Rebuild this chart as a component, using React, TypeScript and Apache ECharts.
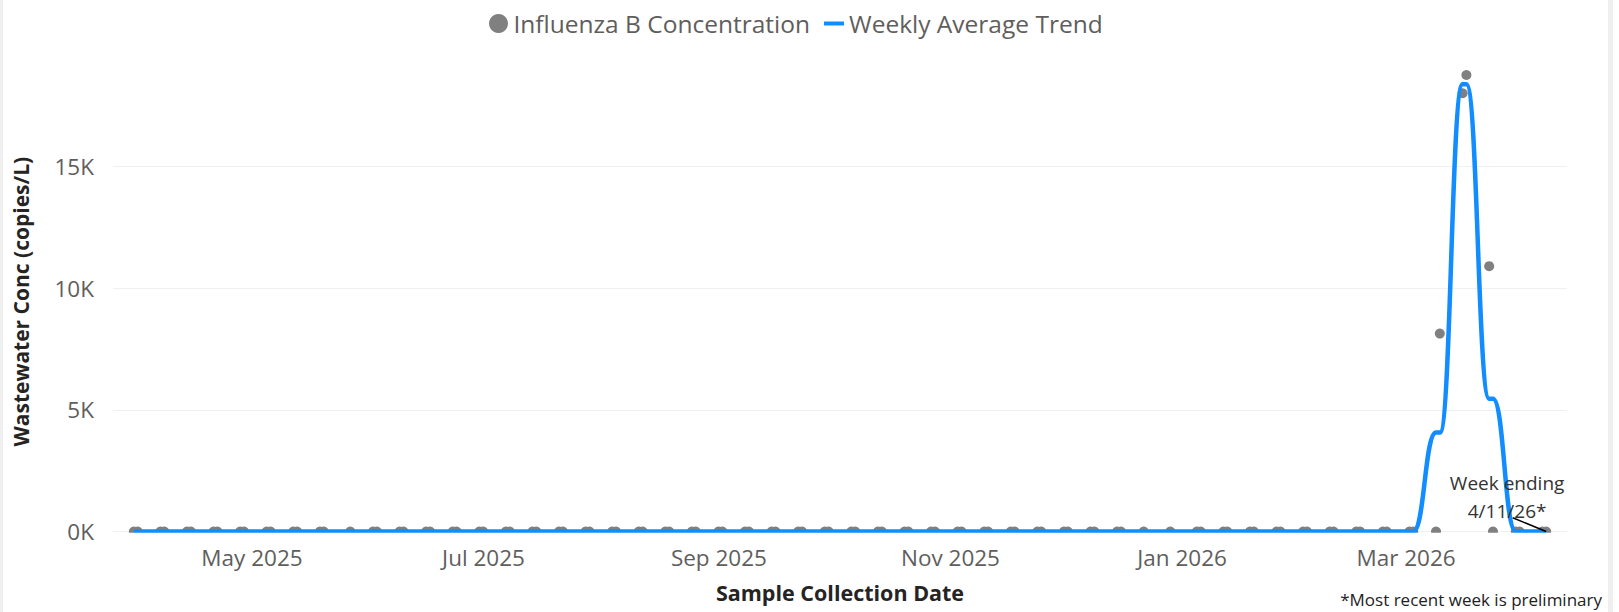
import React, { useEffect, useRef } from 'react';
import * as echarts from 'echarts';

// Sample collection dates (Sunday/Monday sampling) and measured concentrations (copies/L)
const sampleDates = [
  '2025-03-30', '2025-03-31', '2025-04-06', '2025-04-07', '2025-04-13', '2025-04-14', '2025-04-20', '2025-04-21',
  '2025-04-27', '2025-04-28', '2025-05-04', '2025-05-05', '2025-05-11', '2025-05-12', '2025-05-18', '2025-05-19',
  '2025-05-26', '2025-06-01', '2025-06-02', '2025-06-08', '2025-06-09', '2025-06-15', '2025-06-16', '2025-06-22',
  '2025-06-23', '2025-06-29', '2025-06-30', '2025-07-06', '2025-07-07', '2025-07-13', '2025-07-14', '2025-07-20',
  '2025-07-21', '2025-07-27', '2025-07-28', '2025-08-03', '2025-08-04', '2025-08-10', '2025-08-11', '2025-08-17',
  '2025-08-18', '2025-08-24', '2025-08-25', '2025-08-31', '2025-09-01', '2025-09-07', '2025-09-08', '2025-09-14',
  '2025-09-15', '2025-09-21', '2025-09-22', '2025-09-28', '2025-09-29', '2025-10-05', '2025-10-06', '2025-10-12',
  '2025-10-13', '2025-10-19', '2025-10-20', '2025-10-26', '2025-10-27', '2025-11-02', '2025-11-03', '2025-11-09',
  '2025-11-10', '2025-11-16', '2025-11-17', '2025-11-23', '2025-11-24', '2025-11-30', '2025-12-01', '2025-12-07',
  '2025-12-08', '2025-12-14', '2025-12-15', '2025-12-21', '2025-12-28', '2026-01-04', '2026-01-05', '2026-01-11',
  '2026-01-12', '2026-01-18', '2026-01-19', '2026-01-25', '2026-01-26', '2026-02-01', '2026-02-02', '2026-02-08',
  '2026-02-09', '2026-02-15', '2026-02-16', '2026-02-22', '2026-02-23', '2026-03-01', '2026-03-02', '2026-03-08',
  '2026-03-09', '2026-03-15', '2026-03-16', '2026-03-22', '2026-03-23', '2026-03-29', '2026-03-30', '2026-04-05',
  '2026-04-06',
];
const sampleValues = [
  0, 0, 0, 0, 0, 0, 0, 0,
  0, 0, 0, 0, 0, 0, 0, 0,
  0, 0, 0, 0, 0, 0, 0, 0,
  0, 0, 0, 0, 0, 0, 0, 0,
  0, 0, 0, 0, 0, 0, 0, 0,
  0, 0, 0, 0, 0, 0, 0, 0,
  0, 0, 0, 0, 0, 0, 0, 0,
  0, 0, 0, 0, 0, 0, 0, 0,
  0, 0, 0, 0, 0, 0, 0, 0,
  0, 0, 0, 0, 0, 0, 0, 0,
  0, 0, 0, 0, 0, 0, 0, 0,
  0, 0, 0, 0, 0, 0, 0, 0,
  8130, 18000, 18750, 10900, 0, 0, 0, 0,
  0,
];

// Weeks (Sunday start) and weekly average concentration
const weekStarts = [
  '2025-03-30', '2025-04-06', '2025-04-13', '2025-04-20', '2025-04-27', '2025-05-04', '2025-05-11', '2025-05-18',
  '2025-05-25', '2025-06-01', '2025-06-08', '2025-06-15', '2025-06-22', '2025-06-29', '2025-07-06', '2025-07-13',
  '2025-07-20', '2025-07-27', '2025-08-03', '2025-08-10', '2025-08-17', '2025-08-24', '2025-08-31', '2025-09-07',
  '2025-09-14', '2025-09-21', '2025-09-28', '2025-10-05', '2025-10-12', '2025-10-19', '2025-10-26', '2025-11-02',
  '2025-11-09', '2025-11-16', '2025-11-23', '2025-11-30', '2025-12-07', '2025-12-14', '2025-12-21', '2025-12-28',
  '2026-01-04', '2026-01-11', '2026-01-18', '2026-01-25', '2026-02-01', '2026-02-08', '2026-02-15', '2026-02-22',
  '2026-03-01', '2026-03-08', '2026-03-15', '2026-03-22', '2026-03-29', '2026-04-05',
];
const weeklyAverage = [
  0, 0, 0, 0, 0, 0, 0, 0,
  0, 0, 0, 0, 0, 0, 0, 0,
  0, 0, 0, 0, 0, 0, 0, 0,
  0, 0, 0, 0, 0, 0, 0, 0,
  0, 0, 0, 0, 0, 0, 0, 0,
  0, 0, 0, 0, 0, 0, 0, 0,
  0, 4065, 18375, 5450, 0, 0,
];

const monthTicks = ['2025-05-01', '2025-07-01', '2025-09-01', '2025-11-01', '2026-01-01', '2026-03-01'];
const monthLabels = ['May 2025', 'Jul 2025', 'Sep 2025', 'Nov 2025', 'Jan 2026', 'Mar 2026'];
const yTickValues = [0, 5000, 10000, 15000];
const yTickLabels = ['0K', '5K', '10K', '15K'];

const seriesNames = ['Influenza B Concentration', 'Weekly Average Trend'];
const axisRange = ['2025-03-24T12:00:00Z', '2026-04-11T12:00:00Z'];
const annotationText = 'Week ending\n4/11/26*';
const footnoteText = '*Most recent week is preliminary';

const ts = (d: string) => Date.parse(d.length === 10 ? d + 'T00:00:00Z' : d);
const DAY = 86400000;

export default function App() {
  const ref = useRef<HTMLDivElement>(null);

  useEffect(() => {
    const el = ref.current;
    if (!el) return;
    const chart = echarts.init(el, null, { renderer: 'svg' });
    const font = 'Open Sans';

    const scatterData = sampleDates.map((d, i) => [ts(d), sampleValues[i]]);
    const weekIndexOf = (d: string) => {
      let idx = 0;
      for (let i = 0; i < weekStarts.length; i++) if (ts(weekStarts[i]) <= ts(d)) idx = i;
      return idx;
    };
    const trendData = sampleDates.map((d) => [ts(d), weeklyAverage[weekIndexOf(d)]]);
    const labelValues = monthTicks.map((d) => ts(d) - 0.9 * DAY);

    chart.setOption({
      animation: false,
      backgroundColor: '#ffffff',
      textStyle: { fontFamily: font },
      legend: {
        left: 484,
        top: 6,
        itemWidth: 20,
        itemHeight: 19,
        itemGap: 14,
        selectedMode: false,
        textStyle: { fontSize: 24.5, color: '#605E5C', fontFamily: font },
        data: [
          { name: seriesNames[0], icon: 'circle', itemStyle: { color: '#808080', opacity: 1 } },
          { name: seriesNames[1], icon: 'path://M0 0H20V4H0Z', itemStyle: { color: '#118DFF', opacity: 1 } },
        ],
      },
      grid: { left: 113, right: 52, top: 44.6, bottom: 80.5, containLabel: false, outerBoundsMode: 'none' },
      xAxis: {
        type: 'value',
        min: ts(axisRange[0]),
        max: ts(axisRange[1]),
        name: 'Sample Collection Date',
        nameLocation: 'middle',
        nameGap: 50,
        nameTextStyle: { fontSize: 21.5, fontWeight: 'bold', color: '#252423', fontFamily: font },
        axisLine: { show: false },
        axisTick: { show: false },
        splitLine: { show: false },
        axisLabel: {
          customValues: labelValues,
          fontSize: 22.5,
          color: '#605E5C',
          fontFamily: font,
          margin: 14,
          hideOverlap: false,
          formatter: (value: number) => {
            const i = labelValues.findIndex((v) => Math.abs(v - value) < 60000);
            return i >= 0 ? monthLabels[i] : '';
          },
        },
      },
      yAxis: {
        type: 'value',
        min: 0,
        max: 20000,
        interval: 5000,
        axisLine: { show: false },
        axisTick: { show: false },
        splitLine: { show: true, showMaxLine: false, lineStyle: { color: '#F0F0F0', width: 1 } },
        axisLabel: {
          showMaxLabel: false,
          fontSize: 22.5,
          color: '#605E5C',
          fontFamily: font,
          margin: 19,
          formatter: (value: number) => {
            const i = yTickValues.indexOf(value);
            return i >= 0 ? yTickLabels[i] : '';
          },
        },
      },
      series: [
        {
          name: seriesNames[0],
          type: 'scatter',
          data: scatterData,
          symbol: 'circle',
          symbolSize: 10,
          itemStyle: { color: '#808080', opacity: 1 },
          z: 2,
        },
        {
          name: seriesNames[1],
          type: 'line',
          data: trendData,
          smooth: 0.5,
          smoothMonotone: 'x',
          showSymbol: false,
          symbol: 'none',
          clip: false,
          lineStyle: { color: '#118DFF', width: 4.5 },
          itemStyle: { color: '#118DFF' },
          z: 3,
        },
      ],
      graphic: [
        { type: 'rect', id: 'leftBorder', left: 0, top: 0, shape: { width: 3, height: 612 }, style: { fill: '#EFEFEF' }, silent: true },
        { type: 'rect', id: 'rightBorder', left: 1608, top: 0, shape: { width: 5, height: 612 }, style: { fill: '#EFEFEF' }, silent: true },
        {
          type: 'rect',
          id: 'plotClip',
          z: 50,
          shape: { x: 100, y: 532.8, width: 1480, height: 6 },
          style: { fill: '#ffffff' },
          silent: true,
        },
        {
          type: 'text',
          id: 'yTitle',
          x: 21,
          y: 301.7,
          rotation: Math.PI / 2,
          style: {
            text: 'Wastewater Conc (copies/L)',
            fontSize: 21,
            fontWeight: 'bold',
            fontFamily: font,
            fill: '#252423',
            align: 'center',
            verticalAlign: 'middle',
          },
        },
        {
          type: 'text',
          id: 'footnote',
          x: 1602,
          y: 599,
          style: {
            text: footnoteText,
            fontSize: 17,
            fontFamily: font,
            fill: '#222222',
            align: 'right',
            verticalAlign: 'middle',
          },
        },
      ],
    });

    const lastIdx = sampleDates.length - 1;
    const p = chart.convertToPixel({ xAxisIndex: 0, yAxisIndex: 0 }, [ts(sampleDates[lastIdx]), sampleValues[lastIdx]]) as number[];
    if (p && isFinite(p[0])) {
      chart.setOption({
        graphic: [
          {
            type: 'line',
            id: 'annoLine',
            z: 60,
            shape: { x1: p[0] - 33.4, y1: p[1] - 13.7, x2: p[0], y2: p[1] },
            style: { stroke: '#000000', lineWidth: 1.5 },
            silent: true,
          },
          {
            type: 'text',
            id: 'annoText',
            z: 60,
            x: p[0] - 39,
            y: p[1] - 35,
            style: {
              text: annotationText,
              fontSize: 19,
              lineHeight: 28,
              fontFamily: font,
              fill: '#333333',
              align: 'center',
              verticalAlign: 'middle',
            },
          },
        ],
      });
    }

    return () => chart.dispose();
  }, []);

  return (
    <div
      ref={ref}
      style={{ position: 'absolute', left: 0, top: 0, width: '1619px', height: '612px', background: '#fff' }}
    />
  );
}
